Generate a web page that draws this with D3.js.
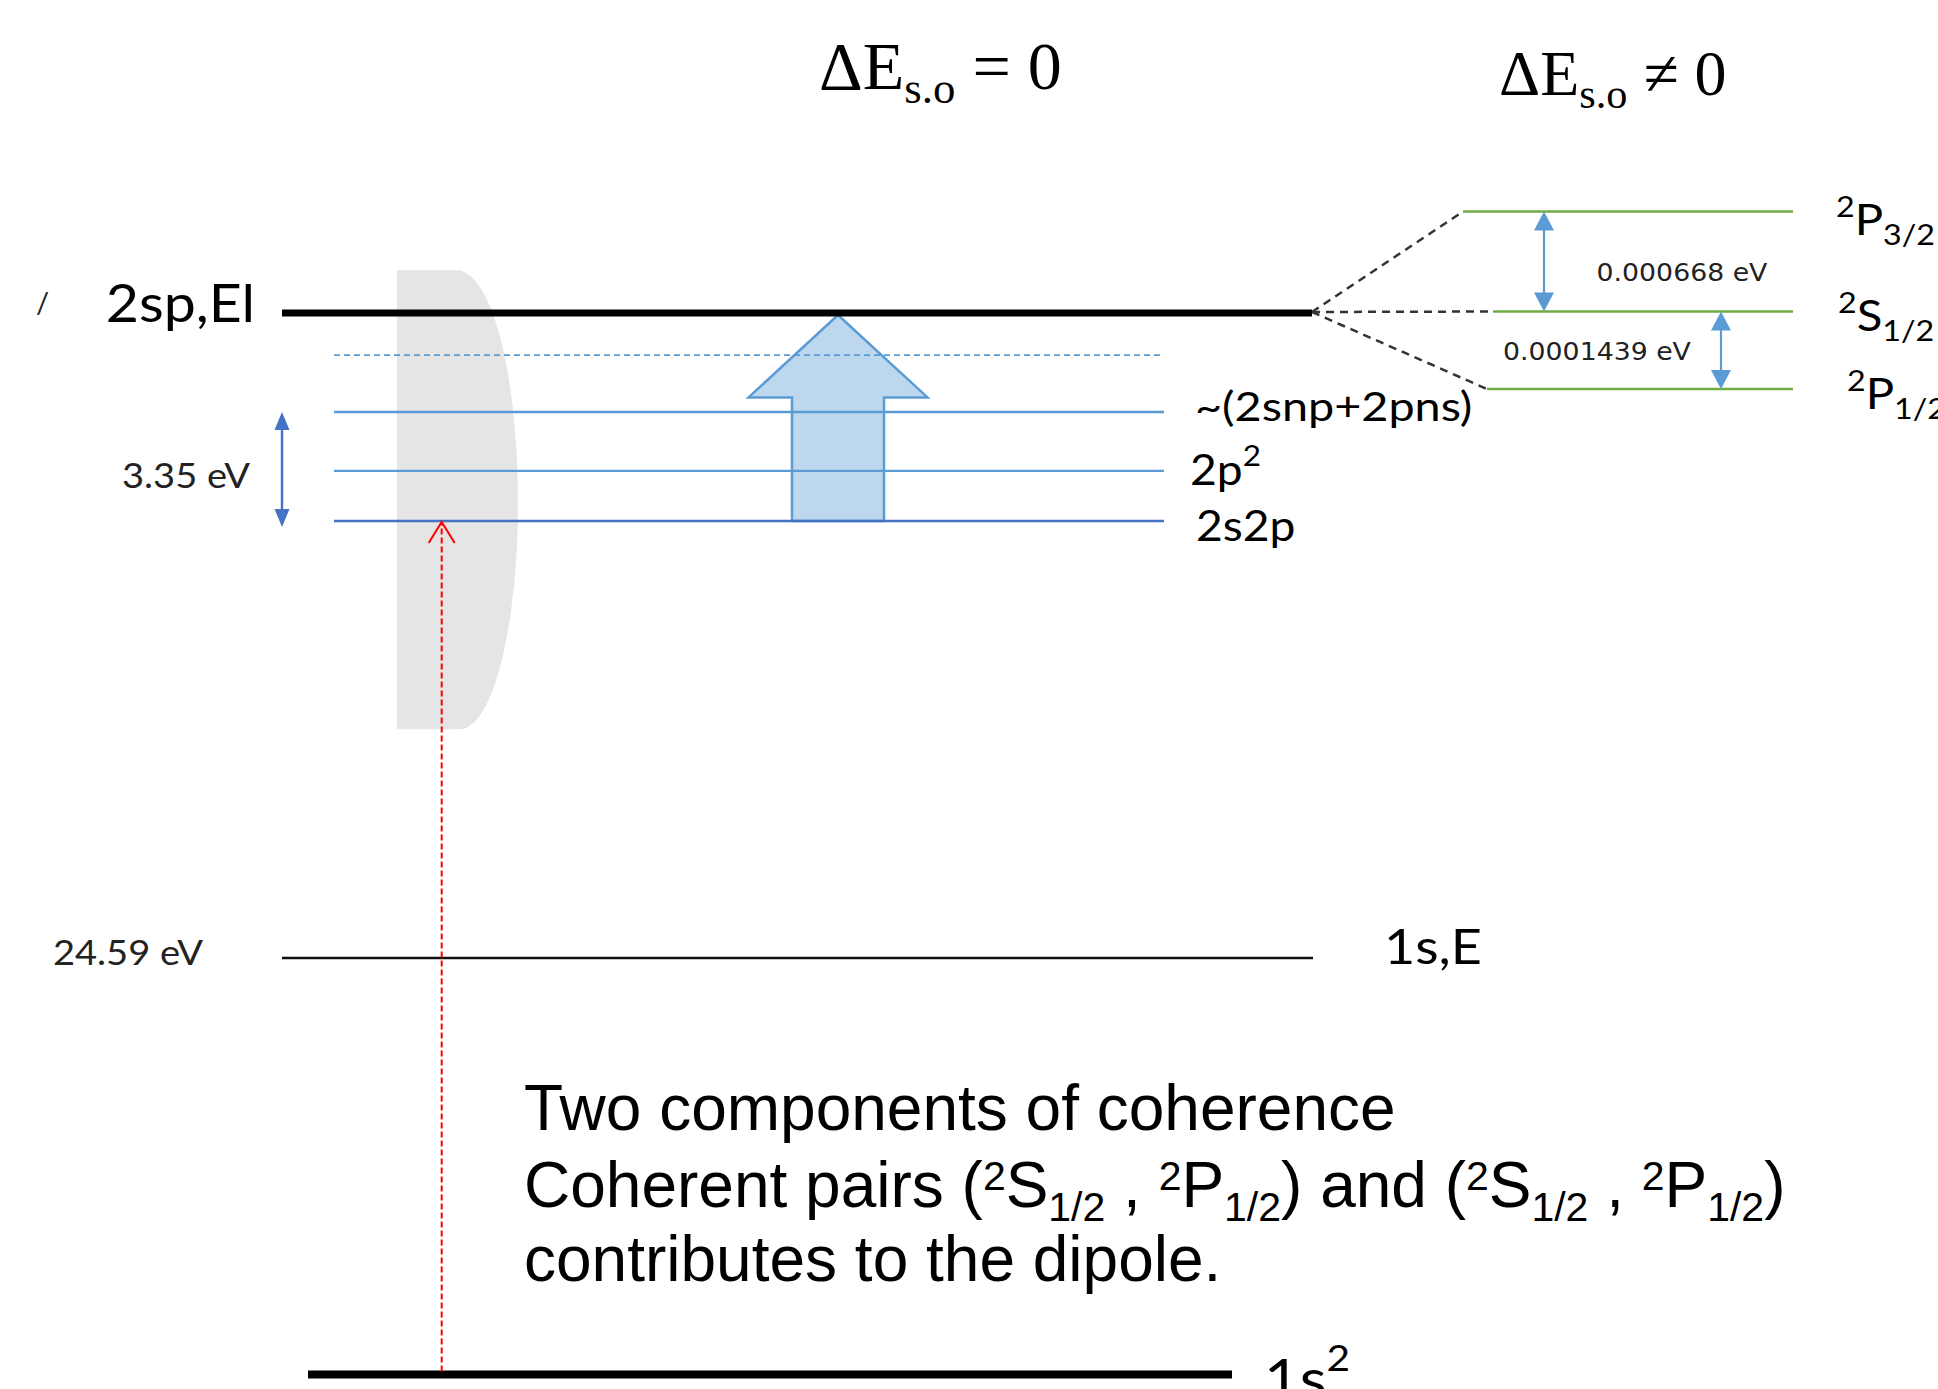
<!DOCTYPE html>
<html><head><meta charset="utf-8">
<script src="https://cdn.jsdelivr.net/npm/d3@7"></script>
<style>html,body{margin:0;padding:0;background:#fff;overflow:hidden} svg{display:block} text{white-space:pre}</style>
</head><body>
<svg id="chart" width="1938" height="1389"></svg>
<script>
// ---------------- data ----------------
// main energy levels (eV, diagram values)
const levelNames    = ["1s²", "1s,E", "2s2p", "2p²", "~(2snp+2pns)", "2snp (higher)", "2sp,El"];
const levelEnergies = [0, 24.59, 60.15, 61.69, 63.5, 64.59, 65.4];
// spin-orbit split components of the 2sp,El threshold
const soTerms    = ["P", "S", "P"];
const soJ        = ["3/2", "1/2", "1/2"];
const soMult     = ["2", "2", "2"];
const soEnergies = [0.000668, 0, -0.0001439];
const soGapLabels = ["0.000668 eV", "0.0001439 eV"];
// labelled gaps in the main scheme
const mainGapLabels = ["3.35 eV", "24.59 eV"];
const titles = [["ΔE", "s.o", " = 0"], ["ΔE", "s.o", " ≠ 0"]];
const noteLines = [
  [["Two components of coherence", "n"]],
  [["Coherent pairs (", "n"], ["2", "sup"], ["S", "n"], ["1/2", "sub"], [" , ", "n"], ["2", "sup"], ["P", "n"], ["1/2", "sub"],
   [") and (", "n"], ["2", "sup"], ["S", "n"], ["1/2", "sub"], [" , ", "n"], ["2", "sup"], ["P", "n"], ["1/2", "sub"], [")", "n"]],
  [["contributes to the dipole.", "n"]]
];

// ---------------- scales ----------------
const W = 1938, H = 1389;
const yE = d3.scaleLinear().domain([0, 24.59, 60.15, 63.5, 65.4]).range([1374.5, 958, 521, 412, 313]);
const ySO = d3.scaleLinear().domain([-0.0001439, 0, 0.000668]).range([389, 311.5, 211.5]);

const svg = d3.select("#chart");
svg.append("rect").attr("width", W).attr("height", H).attr("fill", "#fff");

const SANS = "Lato, 'Open Sans', sans-serif";
const SX = 1.1;

function rich(g, x, y, parts, o) {
  const fs = o.size, sx = o.sx || 1;
  const t = g.append("text")
    .attr("transform", `translate(${x},${y}) scale(${sx},1)`)
    .attr("font-family", o.family || SANS)
    .attr("font-size", fs)
    .attr("fill", o.fill || "#000")
    .attr("text-anchor", o.anchor || "start");
  if (o.weight) t.attr("font-weight", o.weight);
  let cur = 0;
  parts.forEach(([txt, k]) => {
    const target = k === "sup" ? -(o.supRaise || 0.3) * fs : k === "sub" ? (o.subDrop || 0.22) * fs : 0;
    t.append("tspan")
      .attr("dy", target - cur)
      .attr("font-size", k === "n" ? fs : fs * (o.small || 0.65))
      .text(txt);
    cur = target;
  });
  return t;
}

function dblArrow(g, x, y1, y2, color, hw, hl, sw) {
  const top = Math.min(y1, y2), bot = Math.max(y1, y2);
  g.append("line").attr("x1", x).attr("x2", x).attr("y1", top + hl * 0.8).attr("y2", bot - hl * 0.8)
    .attr("stroke", color).attr("stroke-width", sw);
  const p = d3.path();
  p.moveTo(x, top); p.lineTo(x - hw / 2, top + hl); p.lineTo(x + hw / 2, top + hl); p.closePath();
  p.moveTo(x, bot); p.lineTo(x - hw / 2, bot - hl); p.lineTo(x + hw / 2, bot - hl); p.closePath();
  g.append("path").attr("d", p.toString()).attr("fill", color);
}

// ---------------- gray continuum band ----------------
const band = { eTop: 66.22, eBottom: 43.2, x0: 397, x1: 518 };
{
  const yT = yE(band.eTop), yB = yE(band.eBottom), yM = yT + 0.51 * (yB - yT);
  const p = d3.path();
  p.moveTo(band.x0, yT);
  p.lineTo(band.x0 + 63, yT);
  p.bezierCurveTo(band.x0 + 100, yT + 10, band.x1, yT + 120, band.x1, yM);
  p.bezierCurveTo(band.x1, yB - 120, band.x1 - 20, yB - 10, band.x0 + 66, yB);
  p.lineTo(band.x0, yB);
  p.closePath();
  svg.append("path").attr("d", p.toString()).attr("fill", "#e5e5e5");
}

// ---------------- big excitation arrow ----------------
{
  const xc = 838, shaftHW = 46, headHW = 89.5;
  const yBase = yE(levelEnergies[2]), yTip = yE(levelEnergies[6]) + 2, yHead = yE(63.78);
  const p = d3.path();
  p.moveTo(xc - shaftHW, yBase);
  p.lineTo(xc - shaftHW, yHead);
  p.lineTo(xc - headHW, yHead);
  p.lineTo(xc, yTip);
  p.lineTo(xc + headHW, yHead);
  p.lineTo(xc + shaftHW, yHead);
  p.lineTo(xc + shaftHW, yBase);
  p.closePath();
  svg.append("path").attr("d", p.toString()).attr("fill", "#bdd7ee")
    .attr("stroke", "#5b9bd5").attr("stroke-width", 2.5).attr("stroke-linejoin", "miter");
}

// ---------------- level lines ----------------
const levelStyle = {
  "1s²":           { x0: 308, x1: 1232, color: "#000", w: 8 },
  "1s,E":          { x0: 282, x1: 1313, color: "#111", w: 2.6 },
  "2s2p":          { x0: 334, x1: 1164, color: "#4472c4", w: 2.6 },
  "2p²":           { x0: 334, x1: 1164, color: "#5b9bd5", w: 2.4 },
  "~(2snp+2pns)":  { x0: 334, x1: 1164, color: "#5b9bd5", w: 2.4 },
  "2snp (higher)": { x0: 334, x1: 1164, color: "#5b9bd5", w: 1.8, dash: "6,4" },
  "2sp,El":        { x0: 282, x1: 1312, color: "#000", w: 7 }
};
const gLev = svg.append("g");
gLev.selectAll("line").data(levelNames).join("line")
  .attr("x1", d => levelStyle[d].x0).attr("x2", d => levelStyle[d].x1)
  .attr("y1", (d, i) => yE(levelEnergies[i])).attr("y2", (d, i) => yE(levelEnergies[i]))
  .attr("stroke", d => levelStyle[d].color).attr("stroke-width", d => levelStyle[d].w)
  .attr("stroke-dasharray", d => levelStyle[d].dash || null);

// ---------------- red dashed excitation ----------------
{
  const x = 441.7, yB = yE(levelEnergies[0]) - 3, yT = yE(levelEnergies[2]) + 1;
  svg.append("line").attr("x1", x).attr("x2", x).attr("y1", yB).attr("y2", yT)
    .attr("stroke", "#ff0000").attr("stroke-width", 2).attr("stroke-dasharray", "6,3");
  svg.append("path").attr("d", `M${x - 13},${yT + 21}L${x},${yT}L${x + 13},${yT + 21}`)
    .attr("fill", "none").attr("stroke", "#ff0000").attr("stroke-width", 2);
}

// ---------------- level labels ----------------
const gLab = svg.append("g");
rich(gLab, 255, yE(levelEnergies[6]) + 9, [["2sp,El", "n"]], { size: 52, sx: SX, anchor: "end" });
rich(gLab, 36, yE(levelEnergies[6]), [["/", "n"]], { size: 29, fill: "#222" });
rich(gLab, 1384, yE(levelEnergies[1]) + 6, [["1s,E", "n"]], { size: 49, sx: SX });
rich(gLab, 1195, yE(levelEnergies[4]) + 9, [["~(2snp+2pns)", "n"]], { size: 41, sx: 1.14 });
rich(gLab, 1190, yE(levelEnergies[3]) + 14, [["2p", "n"], ["2", "sup"]], { size: 42, sx: SX, supRaise: 0.45, small: 0.68 });
rich(gLab, 1196, yE(levelEnergies[2]) + 20, [["2s2p", "n"]], { size: 42, sx: SX });
rich(gLab, 1264, yE(levelEnergies[0]) + 24, [["1s", "n"], ["2", "sup"]], { size: 56, sx: SX, supRaise: 0.5, small: 0.66 });

// main gap annotations
dblArrow(svg, 282, yE(levelEnergies[4]), yE(levelEnergies[2]) + 6, "#4472c4", 15, 18, 2.4);
rich(gLab, 250, (yE(levelEnergies[4]) + yE(levelEnergies[2]) + 6) / 2 + 18, [[mainGapLabels[0], "n"]], { size: 34, sx: 1.12, anchor: "end", fill: "#222" });
rich(gLab, 203, yE(levelEnergies[1]) + 7, [[mainGapLabels[1], "n"]], { size: 34, sx: 1.12, anchor: "end", fill: "#222" });

// ---------------- spin-orbit splitting ----------------
const soX0 = [1463, 1493, 1487], soX1 = 1793;
const gSO = svg.append("g");
const origin = { x: 1312, y: yE(levelEnergies[6]) - 1 };
gSO.selectAll("line.conn").data(soEnergies).join("line").attr("class", "conn")
  .attr("x1", origin.x).attr("y1", origin.y)
  .attr("x2", (d, i) => soX0[i]).attr("y2", d => ySO(d))
  .attr("stroke", "#333").attr("stroke-width", 2.5).attr("stroke-dasharray", "8,6");
gSO.selectAll("line.lvl").data(soEnergies).join("line").attr("class", "lvl")
  .attr("x1", (d, i) => soX0[i]).attr("x2", soX1)
  .attr("y1", d => ySO(d)).attr("y2", d => ySO(d))
  .attr("stroke", "#70ad47").attr("stroke-width", 2.4);

dblArrow(gSO, 1544, ySO(soEnergies[0]), ySO(soEnergies[1]), "#5b9bd5", 20, 19, 2.2);
dblArrow(gSO, 1721, ySO(soEnergies[1]), ySO(soEnergies[2]), "#5b9bd5", 20, 19, 2.2);
rich(gSO, 1682, (ySO(soEnergies[0]) + ySO(soEnergies[1])) / 2 + 19, [[soGapLabels[0], "n"]],
  { size: 25, sx: 1.07, anchor: "middle", family: "'DejaVu Sans', sans-serif", fill: "#222" });
rich(gSO, 1597, (ySO(soEnergies[1]) + ySO(soEnergies[2])) / 2 + 10, [[soGapLabels[1], "n"]],
  { size: 25, sx: 1.07, anchor: "middle", family: "'DejaVu Sans', sans-serif", fill: "#222" });

const soLabX = [1836, 1838, 1847], soLabDy = [23.5, 19.5, 20];
soEnergies.forEach((e, i) => {
  rich(gSO, soLabX[i], ySO(e) + soLabDy[i], [[soMult[i], "sup"], [soTerms[i], "n"], [soJ[i], "sub"]],
    { size: 43, sx: SX, supRaise: 0.42, subDrop: 0.24, small: 0.68 });
});

// ---------------- titles ----------------
const titlePos = [[819, 89, 68], [1499, 95, 64]];
titles.forEach((tt, i) => {
  const [x, y, fs] = titlePos[i];
  rich(svg, x, y, [[tt[0], "n"], [tt[1], "sub"], [tt[2], "n"]],
    { size: fs, family: "'Liberation Serif', 'Times New Roman', serif", subDrop: 0.2, small: 0.66 });
});

// ---------------- note ----------------
const noteY = [1130, 1207, 1281];
noteLines.forEach((parts, i) => {
  rich(svg, 524, noteY[i], parts,
    { size: 64, family: "'Liberation Sans', Arial, sans-serif", supRaise: 0.26, subDrop: 0.22, small: 0.64 });
});
</script>
</body></html>
